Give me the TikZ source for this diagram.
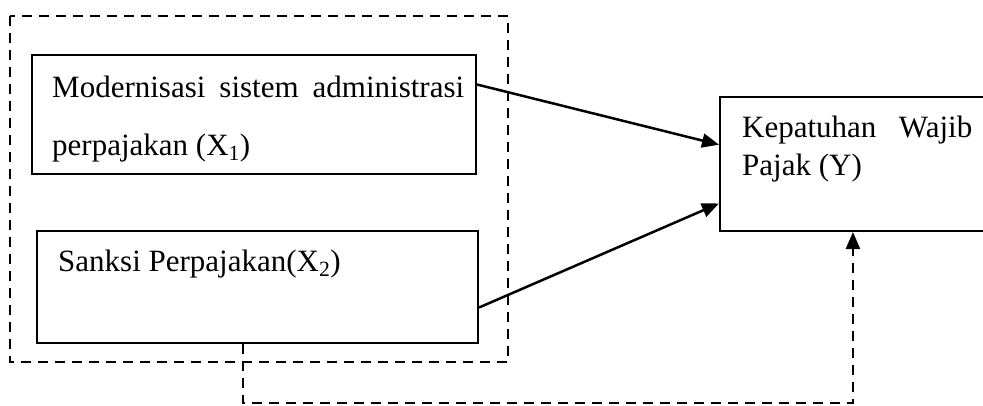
\documentclass[tikz,border=0pt]{standalone}
\usepackage{fontspec}
\setmainfont{Liberation Serif}
\usetikzlibrary{arrows.meta,calc}
\begin{document}
\begin{tikzpicture}[x=1pt,y=-1pt,
  box/.style={draw,line width=2pt,minimum width=#1,inner sep=0pt},
  lbl/.style={anchor=base west,inner sep=0pt,font=\fontsize{31}{37}\selectfont},
  conn/.style={line width=2.5pt,-{Triangle[length=17pt,width=14pt]}},
  dashline/.style={line width=2.5pt,dash pattern=on 10pt off 7pt}]
\useasboundingbox (0,0) rectangle (983,405);
\node[box=444pt,minimum height=119pt] (X1) at (254,114.5) {};
\node[box=441pt,minimum height=112pt] (X2) at (257.5,287) {};
\node[box=280pt,minimum height=134pt] (Y) at (860,164) {};
\draw[dashline] (10,16) rectangle (508,362);
\node[lbl] (t1a) at (52,97) {\makebox[412pt][s]{Modernisasi sistem administrasi}};
\node[lbl] (t1b) at (52,155) {perpajakan (X\textsubscript{1})};
\node[lbl] (t2) at (58,271) {Sanksi Perpajakan(X\textsubscript{2})};
\node[lbl] (t3a) at (742,137) {\makebox[230pt][s]{Kepatuhan Wajib}};
\node[lbl] (t3b) at (742,175) {Pajak (Y)};
\draw[conn] ($(X1.north east)!0.252!(X1.south east)$) -- ($(Y.north west)!0.358!(Y.south west)$);
\draw[conn] ($(X2.north east)!0.68!(X2.south east)$) -- ($(Y.north west)!0.79!(Y.south west)$);
\coordinate (s) at ($(X2.south west)!0.467!(X2.south east)$);
\coordinate (e) at ($(Y.south west)!0.475!(Y.south east)$);
\draw[dashline,-{Triangle[length=17pt,width=14pt]}] (s) -- (s |- 0,403) -- (e |- 0,403) -- (e);
\end{tikzpicture}
\end{document}
